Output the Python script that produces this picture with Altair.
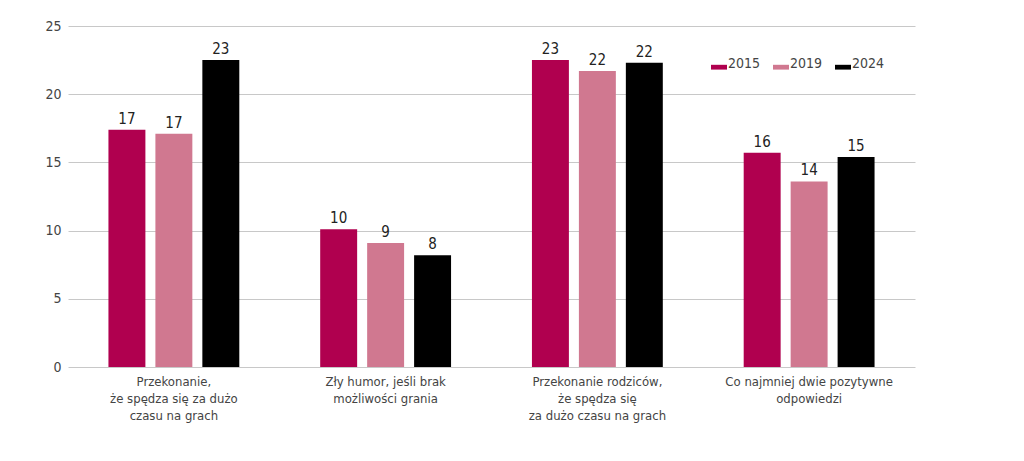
import altair as alt
import pandas as pd

categories = [
    "Przekonanie,|że spędza się za dużo|czasu na grach",
    "Zły humor, jeśli brak|możliwości grania",
    "Przekonanie rodziców,|że spędza się|za dużo czasu na grach",
    "Co najmniej dwie pozytywne|odpowiedzi",
]
years = ["2015", "2019", "2024"]
values_2015 = [17.4, 10.1, 22.5, 15.7]
values_2019 = [17.1, 9.1, 21.7, 13.6]
values_2024 = [22.5, 8.2, 22.3, 15.4]
labels_2015 = [17, 10, 23, 16]
labels_2019 = [17, 9, 22, 14]
labels_2024 = [23, 8, 22, 15]
colors = ["#B0004F", "#D07890", "#000000"]

rows = []
for vals, labs, yr in [(values_2015, labels_2015, "2015"),
                       (values_2019, labels_2019, "2019"),
                       (values_2024, labels_2024, "2024")]:
    for c, v, l in zip(categories, vals, labs):
        rows.append({"cat": c, "year": yr, "value": v, "label": str(l)})
df = pd.DataFrame(rows)

FONT = "DejaVu Sans Condensed, Liberation Sans Narrow, sans-serif"

x = alt.X("cat:N", sort=categories, title=None,
          scale=alt.Scale(paddingInner=0.335, paddingOuter=0.1675),
          axis=alt.Axis(labelAngle=0, labelExpr="split(datum.label, '|')",
                        labelFontSize=13, labelColor="#444444", labelFont=FONT,
                        labelLineHeight=17, labelPadding=8, ticks=False,
                        domain=False, labelBaseline="top", labelLimit=0))
xo = alt.XOffset("year:N", sort=years,
                 scale=alt.Scale(paddingInner=0.213, paddingOuter=0.106))
y = alt.Y("value:Q", title=None,
          scale=alt.Scale(domain=[0, 25], nice=False),
          axis=alt.Axis(values=[0, 5, 10, 15, 20, 25], ticks=False, domain=False,
                        labelFontSize=14, labelColor="#444444", labelFont=FONT,
                        labelPadding=7, gridColor="#c8c8c8", gridWidth=1))
color = alt.Color("year:N", sort=years,
                  scale=alt.Scale(domain=years, range=colors),
                  legend=alt.Legend(title=None, orient="none", legendX=643, legendY=30,
                                    direction="horizontal", columns=3,
                                    symbolType="M-1,0.1H1V0.7H-1Z", symbolSize=256,
                                    symbolStrokeWidth=0, labelOffset=1,
                                    columnPadding=12, labelFontSize=14,
                                    labelFont=FONT, labelColor="#444444"))

bars = alt.Chart(df).mark_bar().encode(x=x, xOffset=xo, y=y, color=color)
text = alt.Chart(df).mark_text(baseline="bottom", dy=-3, fontSize=15,
                               font=FONT, color="#222222").encode(
    x=alt.X("cat:N", sort=categories), xOffset=xo, y="value:Q", text="label:N")

chart = (bars + text).properties(
    width=847, height=341,
    background="white",
    autosize=alt.AutoSizeParams(type="none"),
    padding={"left": 60, "top": 18, "right": 50, "bottom": 80},
).configure_view(stroke=None, strokeWidth=0)

chart.save("out.html", embed_options={"renderer": "svg", "actions": False})
